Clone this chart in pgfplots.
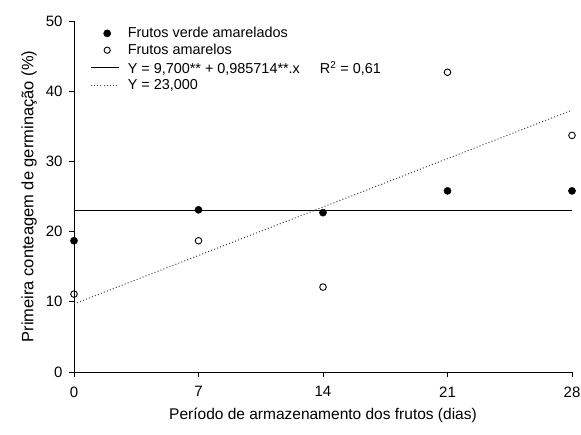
\documentclass[border=0pt]{standalone}
\usepackage{pgfplots}
\pgfplotsset{compat=1.18}
\usepackage{fontspec}
\setmainfont{Liberation Sans}
\begin{document}
\begin{tikzpicture}
\begin{axis}[
  name=ax,
  scale only axis,
  width=498pt, height=351pt,
  xmin=0, xmax=28, ymin=0, ymax=50,
  axis lines*=left,
  axis line style={line width=0.9pt},
  xtick={0,7,14,21,28},
  ytick={0,10,20,30,40,50},
  tick align=outside,
  major tick length=5pt,
  tick style={line width=0.9pt,black},
  /pgf/number format/assume math mode=true,
  ticklabel style={font=\fontsize{15}{18}\selectfont},
  xticklabel style={yshift=-6pt},
  yticklabel style={xshift=-3pt},
  xlabel={Período de armazenamento dos frutos (dias)},
  ylabel={Primeira conteagem de germinação (\%)},
  xlabel style={font=\fontsize{15.5}{18}\selectfont, yshift=-4pt},
  ylabel style={font=\fontsize{16.5}{18}\selectfont, yshift=2pt},
  clip=false,
  legend cell align=left,
  legend style={at={(axis cs:0.9,49.4)}, anchor=north west, draw=none, fill=none,
    font=\fontsize{14.4}{16}\selectfont, row sep=0.9pt, inner sep=0pt},
  legend image code/.code={\draw[#1] (0pt,0pt) -- (28pt,0pt); \path[draw=none] (35pt,0pt) circle (0.1pt);},
]
\coordinate (bl) at (rel axis cs:0,0);
\coordinate (tr) at (rel axis cs:1,1);
\addplot[only marks, mark=*, mark size=3.6pt, mark options={fill=black, draw=black},
  legend image code/.code={\path[draw=none] (0pt,0pt) -- (35pt,0pt); \fill[black] (16.5pt,0pt) circle (3.6pt);}]
  coordinates {(0,18.7) (7,23.1) (14,22.7) (21,25.8) (28,25.8)};
\addlegendentry{Frutos verde amarelados}
\addplot[only marks, mark=o, mark size=3.3pt, mark options={line width=0.9pt, draw=black, fill=white},
  legend image code/.code={\path[draw=none] (0pt,0pt) -- (35pt,0pt); \draw[black, line width=0.9pt, fill=white] (16.5pt,0pt) circle (3.1pt);}]
  coordinates {(0,11.1) (7,18.7) (14,12.1) (21,42.7) (28,33.7)};
\addlegendentry{Frutos amarelos}
\addplot[black, line width=1pt] coordinates {(0,23.0) (28,23.0)};
\addlegendentry{Y = 9,700** + 0,985714**.x\hspace{20pt}R\textsuperscript{2} = 0,61}
\addplot[black!75, line width=1pt, dash pattern=on 1pt off 2.2pt] coordinates {(0,9.7) (28,37.3)};
\addlegendentry{Y = 23,000}
\end{axis}
\pgfresetboundingbox
\path[use as bounding box] ([xshift=-74pt, yshift=-62pt]bl) rectangle ([xshift=9pt, yshift=21pt]tr);
\end{tikzpicture}
\end{document}
